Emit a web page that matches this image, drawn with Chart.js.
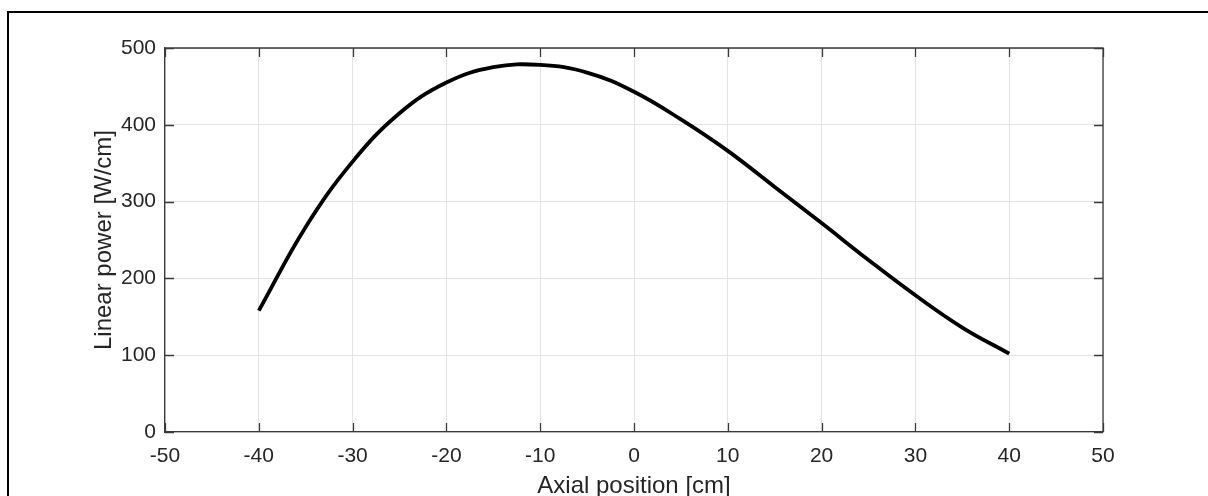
<!DOCTYPE html>
<html>
    <head>
        <meta charset="utf-8">
        <title>Linear power vs axial position</title>
        <script src="https://cdn.jsdelivr.net/npm/chart.js@4.4.1/dist/chart.umd.min.js"></script>
        <style>
            html, body { margin: 0; padding: 0; background: #fff; overflow: hidden; }
            #wrap { position: relative; width: 1208px; height: 496px; }
            #frame { position: absolute; left: 7px; top: 11px; width: 1400px; height: 600px;
                     border-left: 2px solid #000; border-top: 2px solid #000; }
            #power-chart { position: absolute; left: 0; top: 0; }
        </style>
    </head>
    <body>
        <div id="wrap">
            <div id="frame"></div>
            <canvas id="power-chart" width="1208" height="496"></canvas>
        </div>
        <script>
            // values, every 5 cm
            var positions = [-40, -35, -30, -25, -20, -15, -10, -5, 0, 5, 10, 15, 20, 25, 30, 35, 40];
            var powers = [158, 267, 352, 415, 455, 475, 478, 468, 443, 407, 366, 319, 272, 224, 178, 136, 102];
            var xTicks = [-50, -40, -30, -20, -10, 0, 10, 20, 30, 40, 50];
            var yTicks = [0, 100, 200, 300, 400, 500];

            var axisColor = '#3a3a3a';
            var textColor = '#262626';
            var fontFamily = "'Liberation Sans', Arial, sans-serif";

            var points = positions.map(function(p, i) { return {x: p, y: powers[i]}; });

            // matlab style box with ticks pointing inwards
            var boxTicks = {
                id: 'boxTicks',
                afterDraw: function(chart) {
                    var ctx = chart.ctx;
                    var a = chart.chartArea;
                    var xs = chart.scales.x, ys = chart.scales.y;
                    var len = 9;
                    ctx.save();
                    ctx.strokeStyle = axisColor;
                    ctx.lineWidth = 1.3;
                    ctx.beginPath();
                    ctx.moveTo(a.left, a.top);
                    ctx.lineTo(a.right, a.top);
                    ctx.lineTo(a.right, a.bottom);
                    xs.ticks.forEach(function(t) {
                        var px = Math.round(xs.getPixelForValue(t.value)) + 0.5;
                        ctx.moveTo(px, a.bottom);
                        ctx.lineTo(px, a.bottom - len);
                        ctx.moveTo(px, a.top);
                        ctx.lineTo(px, a.top + len);
                    });
                    ys.ticks.forEach(function(t) {
                        var py = Math.round(ys.getPixelForValue(t.value)) + 0.5;
                        ctx.moveTo(a.left, py);
                        ctx.lineTo(a.left + len, py);
                        ctx.moveTo(a.right, py);
                        ctx.lineTo(a.right - len, py);
                    });
                    ctx.stroke();
                    ctx.restore();
                }
            };

            new Chart(document.getElementById('power-chart'), {
                type: 'line',
                data: {
                    datasets: [{
                        data: points,
                        borderColor: '#000',
                        borderWidth: 3.8,
                        pointRadius: 0,
                        fill: false,
                        tension: 0.4
                    }]
                },
                options: {
                    responsive: false,
                    animation: false,
                    layout: { padding: { left: 0, top: 48, right: 105, bottom: 0 } },
                    plugins: { legend: { display: false }, tooltip: { enabled: false } },
                    scales: {
                        x: {
                            type: 'linear',
                            min: -50,
                            max: 50,
                            afterBuildTicks: function(scale) {
                                scale.ticks = xTicks.map(function(v) { return {value: v}; });
                            },
                            afterFit: function(scale) { scale.height = 64; },
                            grid: { color: '#e3e3e3', lineWidth: 1, drawTicks: false },
                            border: { display: true, color: axisColor, width: 1.3 },
                            ticks: { color: textColor, padding: 12, font: { family: fontFamily, size: 21 } },
                            title: {
                                display: true,
                                text: 'Axial position [cm]',
                                color: textColor,
                                padding: { top: 0, bottom: 0 },
                                font: { family: fontFamily, size: 24, lineHeight: 0.8 }
                            }
                        },
                        y: {
                            min: 0,
                            max: 500,
                            afterBuildTicks: function(scale) {
                                scale.ticks = yTicks.map(function(v) { return {value: v}; });
                            },
                            afterFit: function(scale) { scale.width = 165; },
                            grid: { color: '#e3e3e3', lineWidth: 1, drawTicks: false },
                            border: { display: true, color: axisColor, width: 1.3 },
                            ticks: { color: textColor, padding: 9, font: { family: fontFamily, size: 21 } },
                            title: {
                                display: true,
                                text: 'Linear power [W/cm]',
                                color: textColor,
                                padding: { top: 90, bottom: 0 },
                                font: { family: fontFamily, size: 24, lineHeight: 1.2 }
                            }
                        }
                    }
                },
                plugins: [boxTicks]
            });
        </script>
    </body>
</html>
